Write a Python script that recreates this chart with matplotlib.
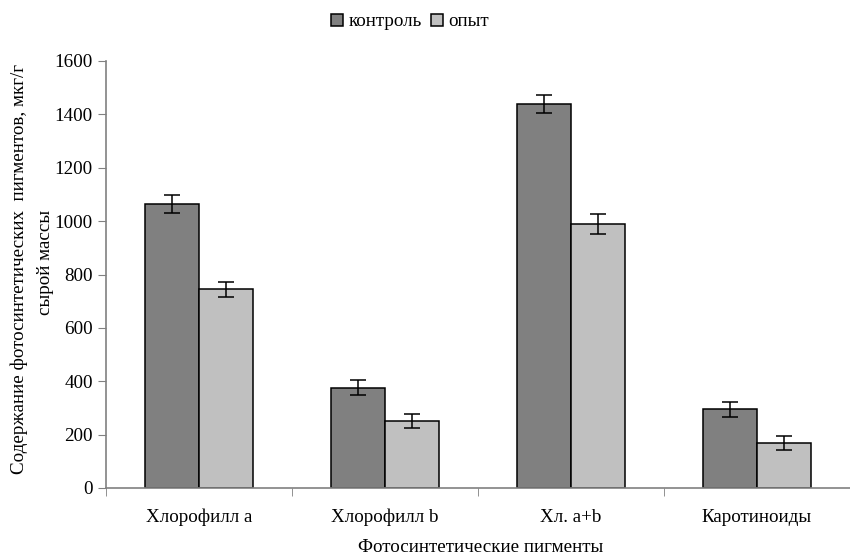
import numpy as np
import matplotlib
matplotlib.use("Agg")
from matplotlib import pyplot as plt

categories = ["Хлорофилл a", "Хлорофилл b", "Хл. a+b", "Каротиноиды"]
control = [1065, 375, 1440, 295]
control_err = [33, 28, 33, 28]
experiment = [745, 250, 990, 168]
experiment_err = [28, 27, 38, 27]

plt.rcParams['font.family'] = ['Liberation Serif', 'DejaVu Serif']
plt.rcParams['font.size'] = 13.7

fig = plt.figure(figsize=(8.5, 5.56), dpi=100)
ax = fig.add_axes([106 / 850, 68 / 556, 744 / 850, 427 / 556])

x = np.arange(len(categories))
w = 0.288
ax.bar(x - w / 2, control, w, color='#808080', edgecolor='black', linewidth=1.1,
       label='контроль', zorder=2)
ax.bar(x + w / 2, experiment, w, color='#C0C0C0', edgecolor='black', linewidth=1.1,
       label='опыт', zorder=2)
ax.errorbar(x - w / 2, control, yerr=control_err, fmt='none', ecolor='black',
            elinewidth=1.1, capsize=5.5, capthick=1.1, zorder=3)
ax.errorbar(x + w / 2, experiment, yerr=experiment_err, fmt='none', ecolor='black',
            elinewidth=1.1, capsize=5.5, capthick=1.1, zorder=3)

ax.set_xlim(-0.5, 3.47)
ax.set_ylim(0, 1600)
ax.set_yticks(range(0, 1601, 200))
ax.set_xticks(x)
ax.set_xticklabels(categories)
ax.set_xticks(np.arange(-0.5, 3.6, 1), minor=True)
ax.tick_params(axis='x', which='major', length=0, pad=15)
ax.tick_params(axis='x', which='minor', length=6, color='#808080', direction='out')
ax.tick_params(axis='y', length=6, color='#808080', direction='out', pad=3.5)

for s in ['top', 'right']:
    ax.spines[s].set_visible(False)
for s in ['left', 'bottom']:
    ax.spines[s].set_color('#808080')
    ax.spines[s].set_linewidth(1.2)

fig.text(481 / 850, 1 - 548 / 556, "Фотосинтетические пигменты",
         ha='center', va='center')

# two-line y label, both lines centred on the axis
fig.text(19 / 850, 1 - 269 / 556, "Содержание фотосинтетических  пигментов, мкг/г",
         rotation=90, ha='center', va='center')
fig.text(45 / 850, 1 - 262 / 556, "сырой массы",
         rotation=90, ha='center', va='center')

handles, labels = ax.get_legend_handles_labels()
fig.legend(handles, labels, loc='center', bbox_to_anchor=(410 / 850, 1 - 22 / 556),
           ncol=2, frameon=False, handlelength=0.6, handleheight=0.6,
           handletextpad=0.3, columnspacing=0.5, borderpad=0.2)

fig.savefig("out.png", dpi=100)
